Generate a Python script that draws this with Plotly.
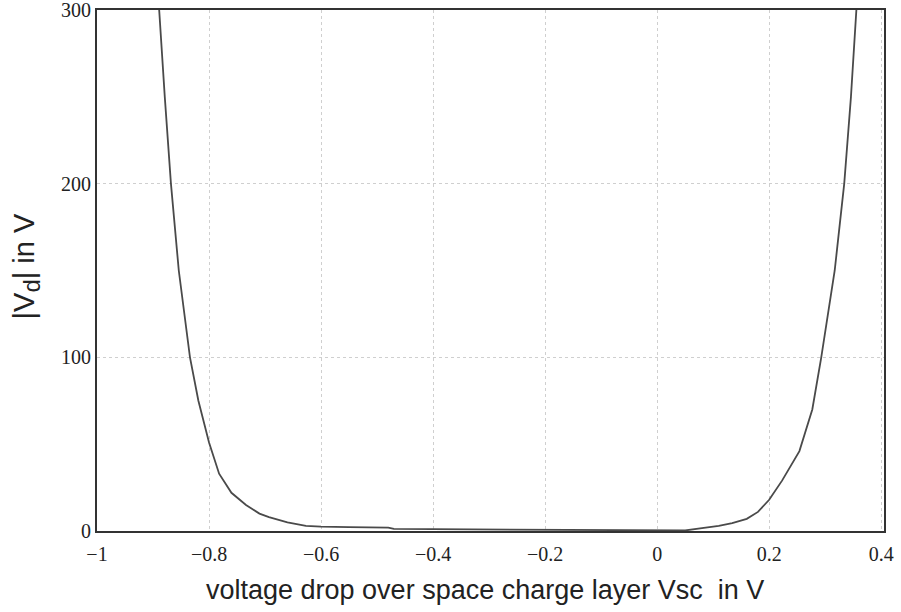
import plotly.graph_objects as go

# Data
vsc = [-0.892, -0.889, -0.879, -0.868, -0.854, -0.834, -0.819, -0.800, -0.782,
       -0.760, -0.734, -0.710, -0.693, -0.660, -0.627, -0.600, -0.550, -0.480,
       -0.470, -0.300, -0.100, 0.000, 0.050, 0.080, 0.110, 0.134, 0.160, 0.180,
       0.200, 0.223, 0.254, 0.277, 0.293, 0.317, 0.334, 0.346, 0.355, 0.358]
vd = [312, 300, 250, 200, 150, 100, 75, 51, 33,
      22, 15, 10, 8, 5, 3, 2.5, 2.2, 2.0,
      1.2, 1.0, 0.8, 0.4, 0.3, 1.7, 3.0, 4.6, 7, 11,
      18, 29, 46, 70, 100, 150, 200, 250, 300, 312]

x_ticks = [-1, -0.8, -0.6, -0.4, -0.2, 0, 0.2, 0.4]
x_tick_text = ["\u22121", "\u22120.8", "\u22120.6", "\u22120.4", "\u22120.2", "0", "0.2", "0.4"]
y_ticks = [0, 100, 200, 300]
y_tick_text = ["0", "100", "200", "300"]

fig = go.Figure()
fig.add_trace(go.Scatter(x=vsc, y=vd, mode="lines",
                         line=dict(color="#4a4a4a", width=1.8),
                         showlegend=False, hoverinfo="skip"))

fig.update_layout(
    width=901, height=612,
    margin=dict(l=97, r=17, t=10, b=81),
    paper_bgcolor="white", plot_bgcolor="white",
    font=dict(family="Liberation Serif", color="#222222", size=20),
)
fig.update_xaxes(range=[-1.0, 0.405], tickvals=x_ticks, ticktext=x_tick_text,
                 showgrid=True, gridcolor="#cfcfcf", griddash="dot", gridwidth=1,
                 showline=True, linecolor="#333333", linewidth=2, mirror=True,
                 ticks="", zeroline=False, automargin=False, ticklabelstandoff=4,
                 ticklabeloverflow="allow",
                 tickfont=dict(family="Liberation Serif", size=20, color="#222222"))
fig.update_yaxes(range=[0, 300], tickvals=y_ticks, ticktext=y_tick_text,
                 showgrid=True, gridcolor="#cfcfcf", griddash="dot", gridwidth=1,
                 showline=True, linecolor="#333333", linewidth=2, mirror=True,
                 ticks="", zeroline=False, automargin=False, ticklabelstandoff=0,
                 ticklabeloverflow="allow",
                 tickfont=dict(family="Liberation Serif", size=20, color="#222222"))

fig.add_annotation(text="voltage drop over space charge layer Vsc  in V",
                   xref="paper", yref="paper", x=0.4925, y=0, yshift=-59,
                   xanchor="center", yanchor="middle", showarrow=False,
                   font=dict(family="Liberation Sans", size=27, color="#222222"))
fig.add_annotation(text="|V<sub><span style='font-size:24px'>d</span></sub>| in V",
                   xref="paper", yref="paper", x=0, xshift=-71, y=0.5, yshift=4,
                   xanchor="center", yanchor="middle", textangle=-90, showarrow=False,
                   font=dict(family="Liberation Sans", size=29, color="#222222"))

fig.write_html("out.html")
